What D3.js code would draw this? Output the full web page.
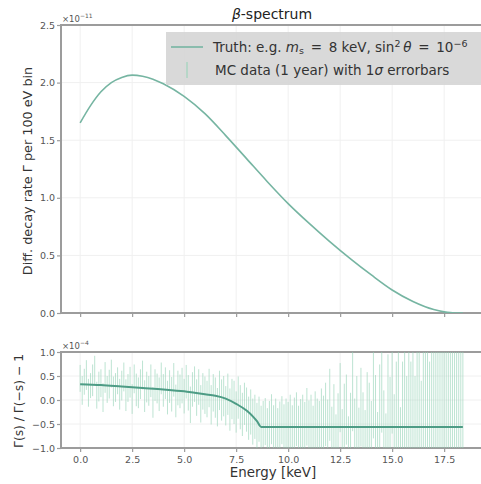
<!DOCTYPE html>
<html>
<head>
<meta charset="utf-8">
<script src="https://cdn.jsdelivr.net/npm/d3@7"></script>
<style>
  body { margin: 0; background: #fff; }
  svg { font-family: "DejaVu Sans", sans-serif; }
</style>
</head>
<body>
<svg id="chart" width="481" height="484"></svg>
<script>
// truth curve, top panel (x 1e-11 per 100 eV bin)
var truthE = [0, 0.5, 1, 1.5, 2, 2.5, 3, 3.5, 4, 5, 6, 7, 8, 9, 10, 11, 12, 13, 14, 15, 16, 17, 17.5, 18, 18.4];
var truthRate = [1.65, 1.80, 1.92, 2.00, 2.045, 2.065, 2.055, 2.03, 1.99, 1.88, 1.73, 1.54, 1.34, 1.14, 0.95, 0.78, 0.62, 0.47, 0.33, 0.20, 0.10, 0.03, 0.01, 0.0, 0.0];

// truth ratio curve, bottom panel (x 1e-4)
var ratioE = [0, 1, 2, 3, 4, 5, 5.5, 6, 6.5, 7, 7.5, 8, 8.3, 8.5, 8.7, 10, 12, 14, 16, 18.4];
var ratioVal = [0.33, 0.31, 0.28, 0.25, 0.22, 0.18, 0.15, 0.12, 0.09, 0.03, -0.08, -0.22, -0.34, -0.44, -0.56, -0.56, -0.56, -0.56, -0.56, -0.56];

// MC data, 0.1 keV bins from 0.0 to 18.4 keV
var mcCenter = [
  0.45,0.20,0.38,0.52,0.15,0.30,0.41,0.62,0.10,0.28,0.35,0.05,0.47,0.22,0.33,0.55,0.18,0.26,0.40,0.12,
  0.30,0.48,0.10,0.25,0.37,0.02,0.44,0.21,0.15,0.33,0.52,0.08,0.27,0.19,0.40,-0.05,0.31,0.24,0.12,0.45,
  0.20,0.35,0.05,0.28,0.12,0.42,-0.02,0.25,0.18,0.30,0.08,0.38,0.15,-0.10,0.22,0.33,0.05,0.27,-0.08,0.18,
  0.10,0.02,0.25,-0.10,0.15,0.05,-0.15,0.20,0.00,0.08,-0.12,0.12,-0.20,0.02,-0.05,-0.25,0.05,-0.15,-0.30,-0.08,
  -0.20,-0.38,-0.25,-0.45,-0.35,-0.55,-0.40,-0.62,-0.50,-0.45,-0.68,-0.52,-0.40,-0.60,-0.48,-0.70,-0.55,-0.42,-0.63,-0.50,
  -0.58,-0.45,-0.66,-0.52,-0.40,-0.70,-0.55,-0.48,-0.62,-0.35,-0.60,-0.50,-0.72,-0.44,-0.58,-0.65,-0.38,-0.55,-0.30,-0.62,
  -0.10,-0.80,-0.35,-1.00,-0.55,0.05,-0.90,-0.40,-0.20,-1.10,-0.60,0.25,-0.75,-0.30,-0.95,-0.15,-0.65,-1.05,-0.25,-0.50,
  -0.90,0.10,-0.40,-1.20,-0.20,0.30,-0.80,-1.30,-0.10,-0.60,0.40,-1.00,-0.35,0.20,-1.40,-0.50,0.00,-0.90,0.35,-0.70,
  0.50,-1.20,-0.30,0.90,-1.60,0.20,-0.80,1.30,-2.00,0.10,1.50,-1.00,-2.50,0.80,2.00,-1.50,-3.00,1.20,-0.50,2.50,
  1.0,-4.0,3.0,-2.0,5.0
];
var mcError = [
  0.28,0.30,0.27,0.31,0.29,0.26,0.33,0.30,0.28,0.31,0.29,0.30,0.32,0.28,0.30,0.29,0.31,0.30,0.28,0.32,
  0.31,0.30,0.33,0.29,0.32,0.31,0.30,0.34,0.32,0.31,0.30,0.33,0.32,0.31,0.34,0.32,0.33,0.31,0.35,0.33,
  0.34,0.33,0.35,0.34,0.36,0.35,0.34,0.36,0.35,0.37,0.36,0.35,0.37,0.38,0.36,0.37,0.38,0.37,0.39,0.38,
  0.39,0.38,0.40,0.41,0.39,0.42,0.40,0.41,0.43,0.42,0.41,0.43,0.44,0.42,0.45,0.43,0.44,0.46,0.45,0.44,
  0.46,0.45,0.47,0.48,0.46,0.49,0.47,0.50,0.48,0.49,0.51,0.50,0.52,0.49,0.51,0.53,0.52,0.50,0.54,0.53,
  0.54,0.56,0.55,0.57,0.56,0.58,0.57,0.59,0.58,0.60,0.59,0.61,0.60,0.62,0.61,0.63,0.62,0.64,0.66,0.63,
  0.75,0.66,0.68,0.70,0.69,0.72,0.71,0.74,0.73,0.76,0.75,0.90,0.78,0.80,0.79,0.82,0.81,0.84,0.83,0.86,
  0.88,0.90,0.92,0.95,0.94,0.98,1.00,1.02,1.05,1.08,1.10,1.12,1.15,1.20,1.25,1.30,1.35,1.40,1.45,1.50,
  1.6,1.7,1.8,1.9,2.0,2.2,2.4,2.6,2.8,3.0,3.3,3.6,4.0,4.4,4.8,5.3,5.8,6.4,7.0,7.8,
  8.5,9.5,11,13,15
];
var mcE = mcCenter.map(function(d, i) { return i / 10; });

var xTicks = [0, 2.5, 5, 7.5, 10, 12.5, 15, 17.5];
var topTicks = [0, 0.5, 1, 1.5, 2, 2.5];
var botTicks = [-1, -0.5, 0, 0.5, 1];

var svg = d3.select("#chart");
var spineCol = "#9c9c9c", gridCol = "#f0f0f0", tickCol = "#555", textCol = "#333";
var lineCol = "#76b5a2", barCol = "#93d3b6", ratioCol = "#4d9c85";

var x = d3.scaleLinear().domain([-0.92, 19.32]).range([61, 482]);
var yTop = d3.scaleLinear().domain([0, 2.5]).range([313, 25]);
var yBot = d3.scaleLinear().domain([-1, 1]).range([448, 352]);
var fmt = d3.format(".1f");

svg.append("clipPath").attr("id", "clipTop").append("rect")
    .attr("x", 61).attr("y", 25).attr("width", 421).attr("height", 288);
svg.append("clipPath").attr("id", "clipBot").append("rect")
    .attr("x", 61).attr("y", 352).attr("width", 421).attr("height", 96);

function panel(y, ticks, showX) {
    var g = svg.append("g");
    var y0 = y.range()[0], y1 = y.range()[1];
    // grid
    g.selectAll(".gx").data(xTicks).enter().append("line")
        .attr("x1", function(d) { return x(d); }).attr("x2", function(d) { return x(d); })
        .attr("y1", y1).attr("y2", y0).attr("stroke", gridCol).attr("stroke-width", 1);
    g.selectAll(".gy").data(ticks).enter().append("line")
        .attr("x1", 61).attr("x2", 482)
        .attr("y1", function(d) { return y(d); }).attr("y2", function(d) { return y(d); })
        .attr("stroke", gridCol).attr("stroke-width", 1);

    var ax = g.append("g").attr("transform", "translate(0," + y0 + ")")
        .call(d3.axisBottom(x).tickValues(xTicks).tickSize(4).tickPadding(4)
            .tickFormat(showX ? fmt : ""));
    var ay = g.append("g").attr("transform", "translate(61,0)")
        .call(d3.axisLeft(y).tickValues(ticks).tickSize(4).tickPadding(2).tickFormat(fmt));
    [ax, ay].forEach(function(a) {
        a.select(".domain").remove();
        a.selectAll(".tick line").attr("stroke", spineCol).attr("stroke-width", 1.2);
        a.selectAll(".tick text").attr("fill", tickCol).style("font-size", "9.5px")
            .style("font-family", "'DejaVu Sans', sans-serif");
    });
    // spines
    g.append("line").attr("x1", 61).attr("x2", 482).attr("y1", y0).attr("y2", y0)
        .attr("stroke", spineCol).attr("stroke-width", 2);
    g.append("line").attr("x1", 61).attr("x2", 482).attr("y1", y1).attr("y2", y1)
        .attr("stroke", spineCol).attr("stroke-width", 2);
    g.append("line").attr("x1", 61).attr("x2", 61).attr("y1", y1 - 1).attr("y2", y0 + 1)
        .attr("stroke", spineCol).attr("stroke-width", 2);
    return g;
}

// top panel
panel(yTop, topTicks, false);
var topLine = d3.line()
    .x(function(d, i) { return x(truthE[i]); })
    .y(function(d) { return yTop(d); })
    .curve(d3.curveMonotoneX);
svg.append("path").attr("clip-path", "url(#clipTop)")
    .attr("d", topLine(truthRate))
    .attr("fill", "none").attr("stroke", lineCol).attr("stroke-width", 1.6);

// bottom panel
panel(yBot, botTicks, true);
svg.append("g").attr("clip-path", "url(#clipBot)")
    .selectAll("line").data(mcCenter).enter().append("line")
    .attr("x1", function(d, i) { return x(mcE[i]); })
    .attr("x2", function(d, i) { return x(mcE[i]); })
    .attr("y1", function(d, i) { return yBot(d - mcError[i]); })
    .attr("y2", function(d, i) { return yBot(d + mcError[i]); })
    .attr("stroke", barCol).attr("stroke-width", 1).attr("opacity", 0.6);
var botLine = d3.line()
    .x(function(d, i) { return x(ratioE[i]); })
    .y(function(d) { return yBot(d); })
    .curve(d3.curveMonotoneX);
svg.append("path").attr("clip-path", "url(#clipBot)")
    .attr("d", botLine(ratioVal))
    .attr("fill", "none").attr("stroke", ratioCol).attr("stroke-width", 2);

// offset labels
function offsetText(yy, exp) {
    var t = svg.append("text").attr("x", 62).attr("y", yy)
        .attr("fill", tickCol).style("font-size", "8.5px").text("\u00d710");
    t.append("tspan").attr("dy", -4).style("font-size", "6px").text(exp);
}
offsetText(22, "\u221211");
offsetText(349, "\u22124");

// title
var title = svg.append("text").attr("x", 272).attr("y", 19).attr("text-anchor", "middle")
    .attr("fill", "#222").style("font-size", "14px");
title.append("tspan").style("font-style", "italic").text("\u03b2");
title.append("tspan").text("-spectrum");

// axis labels
svg.append("text").attr("transform", "translate(32,171) rotate(-90)")
    .attr("text-anchor", "middle").attr("fill", textCol).style("font-size", "12.8px")
    .text("Diff. decay rate \u0393 per 100 eV bin");
svg.append("text").attr("transform", "translate(23,401) rotate(-90)")
    .attr("text-anchor", "middle").attr("fill", textCol).style("font-size", "12.3px")
    .text("\u0393(s) / \u0393(\u2212s) \u2212 1");
svg.append("text").attr("x", 273).attr("y", 477).attr("text-anchor", "middle")
    .attr("fill", textCol).style("font-size", "13.4px").text("Energy [keV]");

// legend
var lg = svg.append("g");
lg.append("rect").attr("x", 166).attr("y", 32).attr("width", 316).attr("height", 53)
    .attr("fill", "#d5d5d5").attr("opacity", 0.9);
lg.append("line").attr("x1", 171).attr("x2", 203).attr("y1", 47).attr("y2", 47)
    .attr("stroke", lineCol).attr("stroke-width", 1.6);
lg.append("line").attr("x1", 187).attr("x2", 187).attr("y1", 62).attr("y2", 78)
    .attr("stroke", barCol).attr("stroke-width", 1);
var t1 = lg.append("text").attr("x", 213).attr("y", 52).attr("fill", textCol).style("font-size", "13.5px");
t1.append("tspan").text("Truth: e.g. ");
t1.append("tspan").style("font-style", "italic").text("m");
t1.append("tspan").attr("dy", 2).style("font-size", "9.5px").text("s");
t1.append("tspan").attr("dy", -2).text("\u2002=\u20028 keV, sin");
t1.append("tspan").attr("dy", -5).style("font-size", "9.5px").text("2");
t1.append("tspan").attr("dy", 5).text("\u2009");
t1.append("tspan").style("font-style", "italic").text("\u03b8");
t1.append("tspan").text("\u2002=\u200210");
t1.append("tspan").attr("dy", -5).style("font-size", "9.5px").text("\u22126");
var t2 = lg.append("text").attr("x", 215).attr("y", 75).attr("fill", textCol).style("font-size", "13.5px");
t2.append("tspan").text("MC data (1 year) with 1");
t2.append("tspan").style("font-style", "italic").text("\u03c3");
t2.append("tspan").text(" errorbars");
</script>
</body>
</html>
